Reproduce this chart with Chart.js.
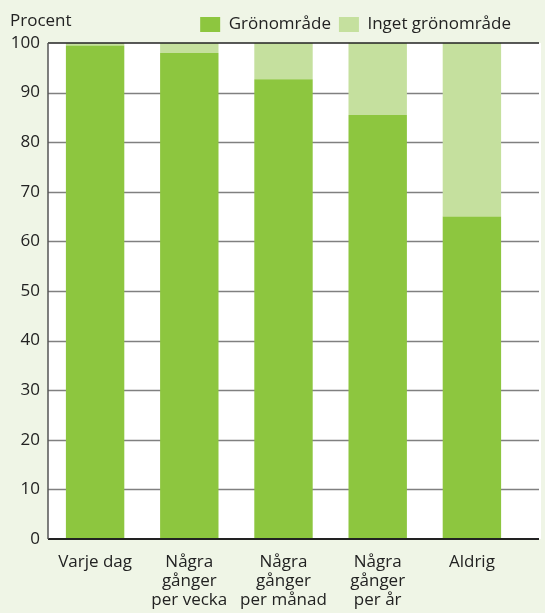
<!DOCTYPE html>
<html>
<head>
<meta charset="utf-8">
<script src="https://cdn.jsdelivr.net/npm/chart.js@4/dist/chart.umd.min.js"></script>
<style>
  html, body { margin: 0; padding: 0; background: #eff5e6; }
  #wrap { width: 545px; height: 613px; }
</style>
</head>
<body>
<div id="wrap"><canvas id="chart"></canvas></div>
<script>
// Data
const kategorier = [
    ['Varje dag'],
    ['Några', 'gånger', 'per vecka'],
    ['Några', 'gånger', 'per månad'],
    ['Några', 'gånger', 'per år'],
    ['Aldrig']
];
const gronomrade = [99.5, 98, 92.7, 85.5, 65];
const ingetGronomrade = [0.5, 2, 7.3, 14.5, 35];
const yTicks = [0, 10, 20, 30, 40, 50, 60, 70, 80, 90, 100];

const FONT = 'Open Sans';
const TEXT = '#222222';

// bakgrund, rutnät och "Procent"
const ramPlugin = {
    id: 'ram',
    beforeDraw(chart) {
        const ctx = chart.ctx;
        const a = chart.chartArea;
        const y = chart.scales.y;
        const hoger = chart.width - 4;
        ctx.save();
        ctx.fillStyle = '#eff5e6';
        ctx.fillRect(0, 0, chart.width, chart.height);
        ctx.fillStyle = '#ffffff';
        ctx.fillRect(a.left, a.top, hoger - a.left, a.bottom - a.top);

        ctx.lineWidth = 1.5;
        ctx.strokeStyle = '#808080';
        yTicks.forEach(function(v) {
            if (v === 0 || v === 100) return;
            const py = Math.round(y.getPixelForValue(v)) + 0.5;
            ctx.beginPath();
            ctx.moveTo(a.left, py);
            ctx.lineTo(hoger - 2, py);
            ctx.stroke();
        });

        ctx.fillStyle = TEXT;
        ctx.font = '17px "' + FONT + '"';
        ctx.textAlign = 'left';
        ctx.textBaseline = 'middle';
        ctx.fillText('Procent', 10, 21);
        ctx.restore();
    },
    afterDatasetsDraw(chart) {
        const ctx = chart.ctx;
        const a = chart.chartArea;
        const hoger = chart.width - 4;
        ctx.save();
        ctx.strokeStyle = '#222222';
        ctx.lineWidth = 1.5;
        ctx.beginPath();
        ctx.moveTo(a.left, a.top);
        ctx.lineTo(hoger - 2, a.top);
        ctx.stroke();
        ctx.lineWidth = 2;
        ctx.beginPath();
        ctx.moveTo(a.left, a.bottom);
        ctx.lineTo(hoger - 2, a.bottom);
        ctx.stroke();
        ctx.strokeStyle = '#555555';
        ctx.lineWidth = 1.5;
        ctx.beginPath();
        ctx.moveTo(a.left, a.top);
        ctx.lineTo(a.left, a.bottom);
        ctx.stroke();
        ctx.restore();
    }
};

const ctx = document.getElementById('chart').getContext('2d');
new Chart(ctx, {
    type: 'bar',
    data: {
        labels: kategorier,
        datasets: [{
            label: 'Grönområde',
            data: gronomrade,
            backgroundColor: '#8dc63f',
            barPercentage: 0.62,
            categoryPercentage: 1
        }, {
            label: 'Inget grönområde',
            data: ingetGronomrade,
            backgroundColor: '#c5e09e',
            barPercentage: 0.62,
            categoryPercentage: 1
        }]
    },
    options: {
        responsive: true,
        maintainAspectRatio: false,
        animation: false,
        layout: {
            padding: { left: 10, right: 26, top: 8, bottom: 4 }
        },
        plugins: {
            legend: {
                position: 'top',
                align: 'end',
                labels: {
                    boxWidth: 20,
                    boxHeight: 15,
                    padding: 8,
                    color: TEXT,
                    font: { family: FONT, size: 17 }
                }
            },
            tooltip: { enabled: false }
        },
        scales: {
            x: {
                stacked: true,
                grid: { display: false },
                border: { display: false },
                afterFit: function(axis) { axis.height = 70; },
                ticks: {
                    color: TEXT,
                    font: { family: FONT, size: 17, lineHeight: 1.1 },
                    maxRotation: 0,
                    autoSkip: false,
                    padding: 6
                }
            },
            y: {
                stacked: true,
                min: 0,
                max: 100,
                grid: { display: false },
                border: { display: false },
                afterFit: function(axis) { axis.width = 38; },
                afterBuildTicks: function(axis) {
                    axis.ticks = yTicks.map(v => ({ value: v }));
                },
                ticks: {
                    color: TEXT,
                    font: { family: FONT, size: 17 },
                    padding: 0
                }
            }
        }
    },
    plugins: [ramPlugin]
});
</script>
</body>
</html>
